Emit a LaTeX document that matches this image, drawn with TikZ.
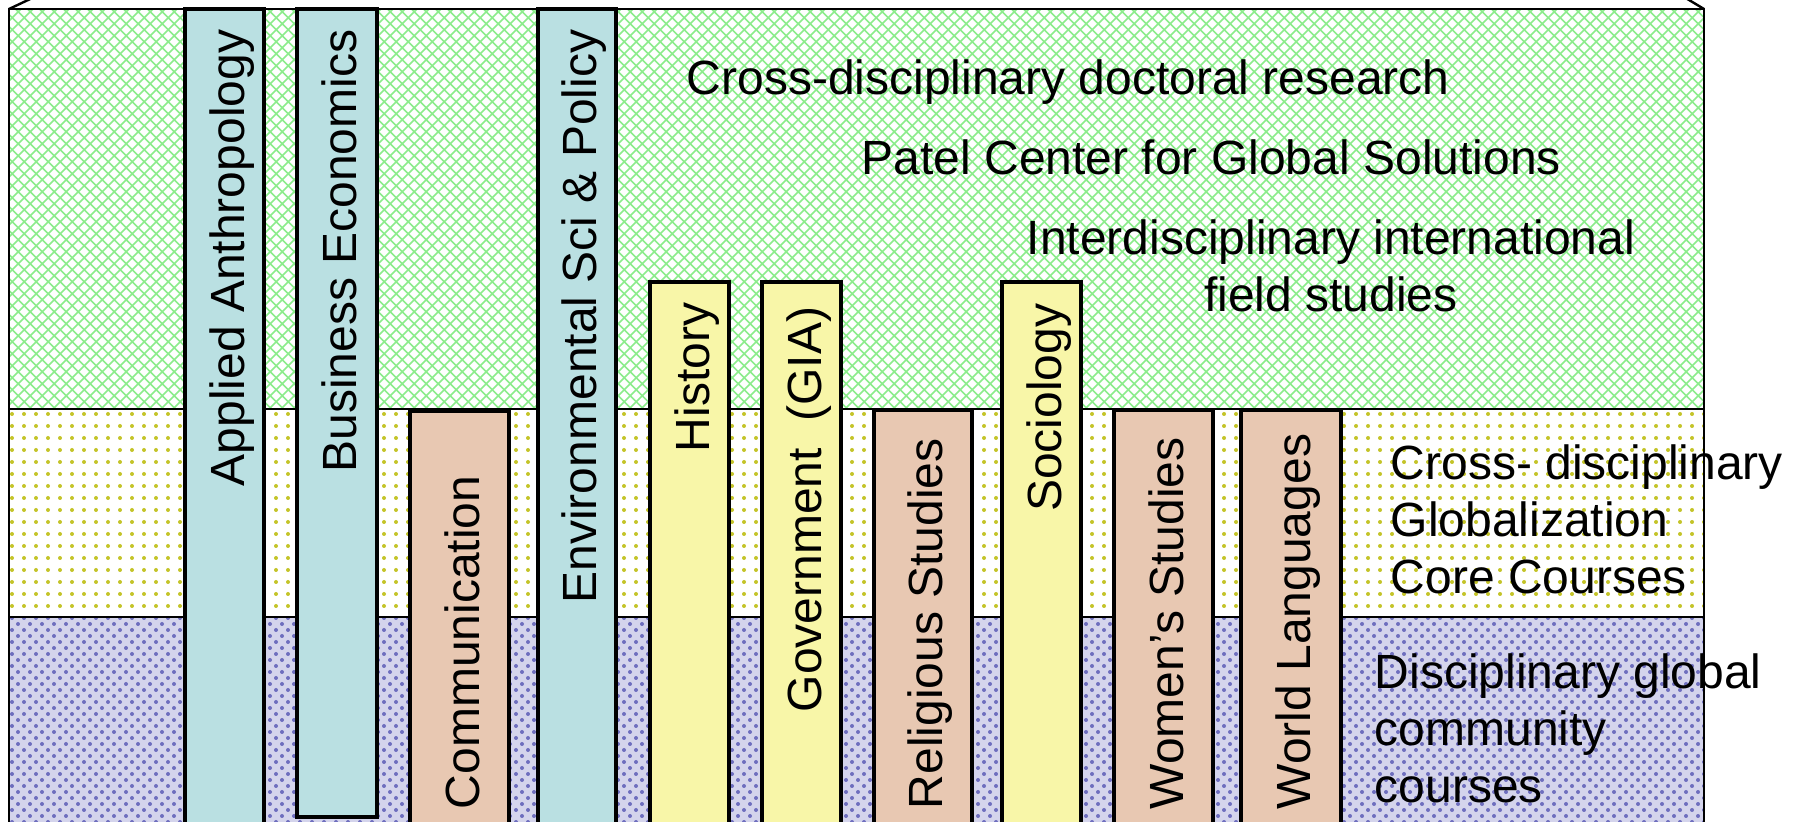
\documentclass[tikz,border=0pt]{standalone}
\usepackage{fontspec}
\setmainfont{Liberation Sans}
\usepackage{xcolor}
\usepackage{tikz}
\usetikzlibrary{patterns}
\definecolor{deptblue}{RGB}{186,224,226}
\definecolor{deptpeach}{RGB}{232,200,178}
\definecolor{deptyellow}{RGB}{248,246,168}
\definecolor{researchgreen}{RGB}{140,236,140}
\definecolor{coreolive}{RGB}{196,196,40}
\definecolor{globaldots}{RGB}{110,110,190}
\definecolor{globalback}{RGB}{212,212,236}

\begin{document}
\begin{tikzpicture}[x=0.25pt,y=-0.25pt]
    \tikzstyle{tierline} = [line width=0.6pt]
    \tikzstyle{deptbar} = [line width=1pt]
    \tikzstyle{depttext} = [rotate=90,inner sep=0pt,text height=9.8pt,text depth=0pt,font=\fontsize{12}{14.25}\selectfont]
    \tikzstyle{tiertext} = [inner sep=0pt,font=\fontsize{12}{14.25}\selectfont]
        \useasboundingbox (0,0) rectangle (1806,822);
        \clip (0,0) rectangle (1806,822);
        % tiers
        \fill[white] (9,9) rectangle (1704,840);
        \fill[pattern=crosshatch,pattern color=researchgreen] (9,9) rectangle (1704,409);
        \fill[pattern=dots,pattern color=coreolive] (9,409) rectangle (1704,617);
        \fill[globalback] (9,617) rectangle (1704,840);
        \fill[pattern=crosshatch dots,pattern color=globaldots] (9,617) rectangle (1704,840);
        \draw[tierline] (9,409) -- (1704,409);
        \draw[tierline] (9,617) -- (1704,617);
        \draw[tierline] (9,840) -- (9,9) -- (1704,9) -- (1704,840);
        \draw[tierline] (9,9) -- (60,-15);
        \draw[tierline] (1704,9) -- (1664,-15);
        % departments
        \draw[deptbar,fill=deptblue] (185,9) rectangle (264,840);
        \draw[deptbar,fill=deptblue] (297,9) rectangle (377,817);
        \draw[deptbar,fill=deptpeach] (410,411) rectangle (509,840);
        \draw[deptbar,fill=deptblue] (538,9) rectangle (616,840);
        \draw[deptbar,fill=deptyellow] (650,282) rectangle (729,840);
        \draw[deptbar,fill=deptyellow] (762,282) rectangle (841,840);
        \draw[deptbar,fill=deptpeach] (874,410) rectangle (972,840);
        \draw[deptbar,fill=deptyellow] (1002,282) rectangle (1081,840);
        \draw[deptbar,fill=deptpeach] (1114,410) rectangle (1213,840);
        \draw[deptbar,fill=deptpeach] (1241,410) rectangle (1341,840);
        \node[depttext,anchor=east] (anthro) at (224.5,29) {Applied Anthropology};
        \node[depttext,anchor=east] (busecon) at (337,29) {Business Economics};
        \node[depttext,anchor=west] (comm) at (459.5,810) {Communication};
        \node[depttext,anchor=east] (envsci) at (577,29) {Environmental Sci \& Policy};
        \node[depttext,anchor=east] (hist) at (689.5,302) {History};
        \node[depttext,anchor=east] (gov) at (801.5,306) {Government\ \ (GIA)};
        \node[depttext,anchor=west] (relig) at (923,810) {Religious Studies};
        \node[depttext,anchor=east] (socio) at (1041.5,303) {Sociology};
        \node[depttext,anchor=west] (women) at (1163.5,810) {Women’s Studies};
        \node[depttext,anchor=west] (worldlang) at (1291,810) {World Languages};
        % tier labels
        \node[tiertext,anchor=base west] (doctoral) at (686,95) {Cross-disciplinary doctoral research};
        \node[tiertext,anchor=base west] (patel) at (861,175) {Patel Center for Global Solutions};
        \node[tiertext,anchor=base,align=center] (field) at (1331,312) {Interdisciplinary international\\field studies};
        \node[tiertext,anchor=base west,align=left] (core) at (1390,593) {Cross- disciplinary\\Globalization\\Core Courses};
        \node[tiertext,anchor=base west,align=left] (community) at (1374,802) {Disciplinary global\\community\\courses};
    \end{tikzpicture}
\end{document}
